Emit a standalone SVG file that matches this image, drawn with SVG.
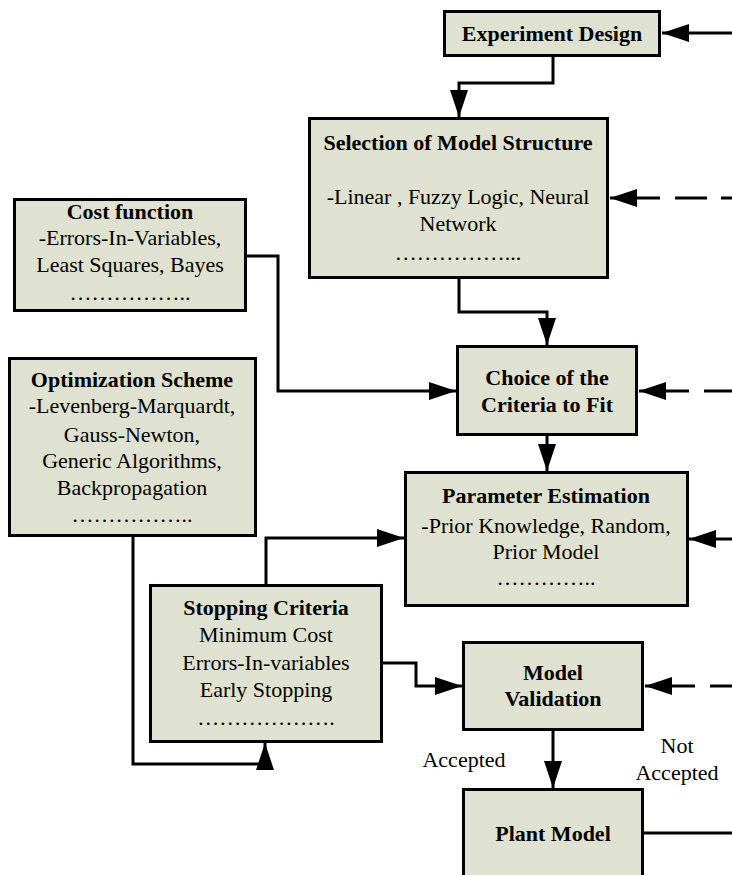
<svg xmlns="http://www.w3.org/2000/svg" width="732" height="875" viewBox="0 0 732 875">
<style>
.box{fill:#DFE2D0;stroke:#000;stroke-width:3}
.t{font-family:"Liberation Serif","Times New Roman",serif;font-size:22px;fill:#000;text-anchor:middle}
.b{font-weight:bold}
.c{fill:none;stroke:#000;stroke-width:3}
.d{stroke-dasharray:50 15 32 14}
</style>
<defs>
<marker id="ah" markerUnits="userSpaceOnUse" markerWidth="28" markerHeight="20" refX="27" refY="9.5" orient="auto-start-reverse" viewBox="0 0 28 19">
<path d="M0,0.5 L27,9.5 L0,18.5 z" fill="#000"/>
</marker>
</defs>
<rect width="732" height="875" fill="#fff"/>
<g id="connectors">
<path class="c" d="M732,33 H662" marker-end="url(#ah)"/>
<path class="c" d="M553,57 V83 H459 V117" marker-end="url(#ah)"/>
<path class="c d" d="M610,198 H732" marker-start="url(#ah)"/>
<path class="c" d="M459,279 V312 H547 V345" marker-end="url(#ah)"/>
<path class="c" d="M247,256 H278 V391 H456" marker-end="url(#ah)"/>
<path class="c d" d="M639,391 H732" marker-start="url(#ah)"/>
<path class="c" d="M547,436 V471" marker-end="url(#ah)"/>
<path class="c" d="M732,539 H689" marker-end="url(#ah)"/>
<path class="c" d="M133,537 V764 H265 V743" marker-end="url(#ah)"/>
<path class="c" d="M266,584 V538 H404" marker-end="url(#ah)"/>
<path class="c" d="M383,663 H416 V686 H462" marker-end="url(#ah)"/>
<path class="c d" d="M645,686 H732" marker-start="url(#ah)"/>
<path class="c" d="M553,731 V788" marker-end="url(#ah)"/>
<path class="c" d="M644,833 H732"/>
<text class="t" x="464" y="767">Accepted</text>
<text class="t" x="677" y="753">Not</text>
<text class="t" x="677" y="780">Accepted</text>
</g>
<g id="experiment-design">
<rect class="box" x="444.5" y="11.5" width="215" height="44"/>
<text class="t b" x="552" y="41">Experiment Design</text>
</g>
<g id="model-structure">
<rect class="box" x="309.5" y="118.5" width="298" height="159"/>
<text class="t b" x="458" y="150">Selection of Model Structure</text>
<text class="t" x="458" y="204">-Linear , Fuzzy Logic, Neural</text>
<text class="t" x="458" y="231">Network</text>
<text class="t" x="458" y="260">……………...</text>
</g>
<g id="cost-function">
<rect class="box" x="14.5" y="199.5" width="231" height="111"/>
<text class="t b" x="130" y="219">Cost function</text>
<text class="t" x="130" y="245">-Errors-In-Variables,</text>
<text class="t" x="130" y="272">Least Squares, Bayes</text>
<text class="t" x="130" y="300">……………..</text>
</g>
<g id="criteria">
<rect class="box" x="457.5" y="346.5" width="179" height="88"/>
<text class="t b" x="547" y="385">Choice of the</text>
<text class="t b" x="547" y="412">Criteria to Fit</text>
</g>
<g id="optimization">
<rect class="box" x="9.5" y="358.5" width="246" height="177"/>
<text class="t b" x="132" y="387">Optimization Scheme</text>
<text class="t" x="132" y="413">-Levenberg-Marquardt,</text>
<text class="t" x="132" y="442">Gauss-Newton,</text>
<text class="t" x="132" y="468">Generic Algorithms,</text>
<text class="t" x="132" y="495">Backpropagation</text>
<text class="t" x="132" y="522">……………..</text>
</g>
<g id="parameter-estimation">
<rect class="box" x="405.5" y="472.5" width="282" height="133"/>
<text class="t b" x="546" y="503">Parameter Estimation</text>
<text class="t" x="546" y="533">-Prior Knowledge, Random,</text>
<text class="t" x="546" y="559">Prior Model</text>
<text class="t" x="546" y="585">…………..</text>
</g>
<g id="stopping-criteria">
<rect class="box" x="150.5" y="585.5" width="231" height="156"/>
<text class="t b" x="266" y="615">Stopping Criteria</text>
<text class="t" x="266" y="642">Minimum Cost</text>
<text class="t" x="266" y="670">Errors-In-variables</text>
<text class="t" x="266" y="697">Early Stopping</text>
<text class="t" x="266" y="725">……………….</text>
</g>
<g id="model-validation">
<rect class="box" x="463.5" y="642.5" width="179" height="87"/>
<text class="t b" x="553" y="680">Model</text>
<text class="t b" x="553" y="706">Validation</text>
</g>
<g id="plant-model">
<rect class="box" x="463.5" y="789.5" width="179" height="110"/>
<text class="t b" x="553" y="841">Plant Model</text>
</g>
</svg>
